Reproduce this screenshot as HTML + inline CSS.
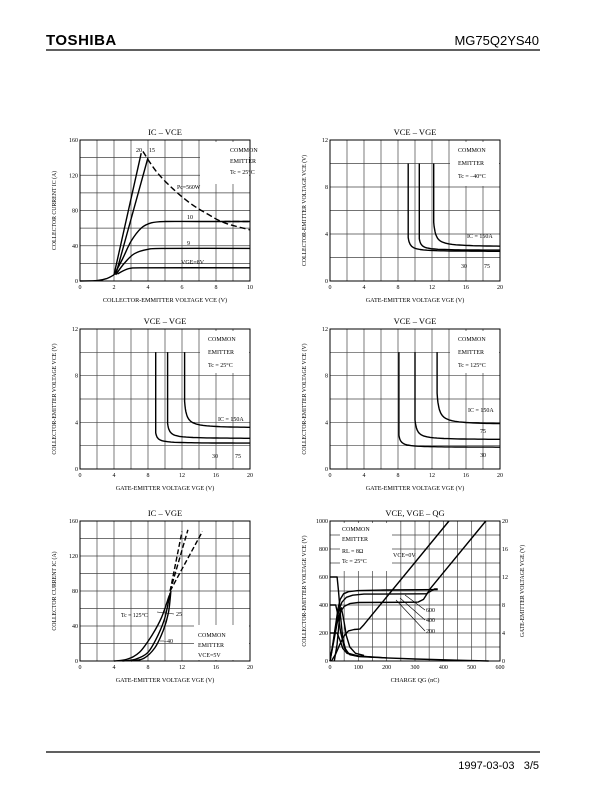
<!DOCTYPE html>
<html><head><meta charset="utf-8"><style>
body{margin:0;background:#fff;}
svg{display:block}
text{font-family:"Liberation Serif",serif;fill:#000}
</style></head><body>
<svg id="s" width="612" height="792" viewBox="0 0 612 792" xmlns="http://www.w3.org/2000/svg">
<text x="46" y="45" style="font-family:'Liberation Sans',sans-serif;font-weight:bold;font-size:15px;letter-spacing:0.5px">TOSHIBA</text>
<text x="539" y="45" text-anchor="end" style="font-family:'Liberation Sans',sans-serif;font-size:13px">MG75Q2YS40</text>
<line x1="46" y1="50" x2="540" y2="50" stroke="#000" stroke-width="1.2"/>
<line x1="46" y1="752" x2="540" y2="752" stroke="#000" stroke-width="1.2"/>
<text x="539" y="769" text-anchor="end" style="font-family:'Liberation Sans',sans-serif;font-size:11px">1997-03-03&#160;&#160;&#160;3/5</text>
</svg>
<script>
var S=document.getElementById('s'),NS='http://www.w3.org/2000/svg';
function el(t,a,txt){var e=document.createElementNS(NS,t);for(var k in a)e.setAttribute(k,a[k]);if(txt!==undefined)e.textContent=txt;S.appendChild(e);return e;}
function T(x,y,s,sz,anc,extra){var a={x:x,y:y,'font-size':sz||6.5};if(anc)a['text-anchor']=anc;if(extra)for(var k in extra)a[k]=extra[k];return el('text',a,s);}
function chart(o){
 var x0=o.x,y0=o.y,w=o.w,h=o.h;
 for(var i=1;i<o.nx;i++){var x=x0+w*i/o.nx;el('line',{x1:x,y1:y0,x2:x,y2:y0+h,stroke:'#444','stroke-width':0.7});}
 for(var j=1;j<o.ny;j++){var y=y0+h*j/o.ny;el('line',{x1:x0,y1:y,x2:x0+w,y2:y,stroke:'#444','stroke-width':0.7});}
 if(o.box)el('rect',{x:o.box[0],y:o.box[1],width:o.box[2],height:o.box[3],fill:'#fff'});
 el('rect',{x:x0,y:y0,width:w,height:h,fill:'none',stroke:'#000','stroke-width':1});
 o.xl.forEach(function(l,i){T(x0+w*i/(o.xl.length-1),y0+h+8,l,6,'middle');});
 o.yl.forEach(function(l,i){T(x0-2,y0+h-h*i/(o.yl.length-1)+2,l,6,'end');});
 if(o.yr)o.yr.forEach(function(l,i){T(x0+w+2,y0+h-h*i/(o.yr.length-1)+2,l,6,'start');});
 T(x0+w/2,y0-5,o.title,8.5,'middle');
 T(x0+w/2,y0+h+21,o.xt,6.2,'middle');
 var yc=y0+h/2;T(0,0,o.yt,5.8,'middle',{transform:'translate('+(x0-24)+','+yc+') rotate(-90)'});
 if(o.yt2)T(0,0,o.yt2,5.8,'middle',{transform:'translate('+(x0+w+24)+','+yc+') rotate(-90)'});
 var m={X:function(v){return x0+w*(v-o.xr[0])/(o.xr[1]-o.xr[0]);},Y:function(v){return y0+h-h*(v-o.yr_[0])/(o.yr_[1]-o.yr_[0]);}};
 m.P=function(pts,dash,sw){var d='';pts.forEach(function(p,i){d+=(i?'L':'M')+m.X(p[0]).toFixed(1)+','+m.Y(p[1]).toFixed(1);});var a={d:d,fill:'none',stroke:'#000','stroke-width':sw||1.4,'stroke-linejoin':'round'};if(dash)a['stroke-dasharray']=dash;el('path',a);};
 m.S=function(pts,dash,sw){
  var P=pts.map(function(p){return [m.X(p[0]),m.Y(p[1])];});var d='M'+P[0].join(',');
  for(var i=0;i<P.length-1;i++){var p0=P[i-1]||P[i],p1=P[i],p2=P[i+1],p3=P[i+2]||p2;
   d+='C'+(p1[0]+(p2[0]-p0[0])/6).toFixed(1)+','+(p1[1]+(p2[1]-p0[1])/6).toFixed(1)+' '+(p2[0]-(p3[0]-p1[0])/6).toFixed(1)+','+(p2[1]-(p3[1]-p1[1])/6).toFixed(1)+' '+p2[0].toFixed(1)+','+p2[1].toFixed(1);}
  var a={d:d,fill:'none',stroke:'#000','stroke-width':sw||1.4};if(dash)a['stroke-dasharray']=dash;el('path',a);};
 return m;}
var c=chart({x:80,y:140,w:170,h:141,nx:10,ny:8,xl:['0','2','4','6','8','10'],yl:['0','40','80','120','160'],xr:[0,10],yr_:[0,160],
 title:'IC  –  VCE',xt:'COLLECTOR-EMMITTER VOLTAGE   VCE   (V)',yt:'COLLECTOR CURRENT   IC   (A)',box:[200,142,49,42]});
c.S([[0,0],[1,0.5],[1.6,3],[2,7]]);
c.P([[2,7],[3.6,145]]);c.P([[2.1,7],[4,140]]);
c.S([[2,7],[2.5,25],[3,45],[3.6,60],[4.2,66],[5,67.5],[7,67.5],[10,67.5]]);
c.S([[2.1,7],[2.6,20],[3.2,31],[4,36],[5,37],[10,37]]);
c.S([[2.2,8],[2.6,12],[3,14.5],[4,15],[10,15]]);
c.S([[3.7,147],[4.5,124],[5.5,104],[6.5,88],[7.5,76],[8.5,66],[10,58]],'6,3');
c.P([[8.5,67.5],[10,67.5]],'6,3');
T(230,152,'COMMON',6);T(230,163,'EMITTER',6);T(230,174,'Tc = 25°C',6);
T(136,152,'20',6);T(149,152,'15',6);T(177,189,'Pc=560W',5.8);T(187,219,'10',6);T(187,245,'9',6);T(181,264,'VGE=8V',6);
function vv(c,v0,bend,end){var p=[[v0,10],[v0,bend]];for(var g=0.05;v0+g<=20.001;g+=(g<1?0.05:0.4)){p.push([v0+g,end+(bend-end)*0.25/(g+0.25)]);}p.push([20,end+(bend-end)*0.25/(20-v0+0.25)]);c.P(p);}
c=chart({x:330,y:140,w:170,h:141,nx:10,ny:6,xl:['0','4','8','12','16','20'],yl:['0','4','8','12'],xr:[0,20],yr_:[0,12],
 title:'VCE  –  VGE',xt:'GATE-EMITTER VOLTAGE   VGE   (V)',yt:'COLLECTOR-EMITTER VOLTAGE   VCE   (V)',box:[450,142,49,44]});
vv(c,9.2,3.7,2.5);vv(c,10.5,3.6,2.6);vv(c,12.2,5.0,2.9);
T(458,152,'COMMON',6);T(458,165,'EMITTER',6);T(458,178,'Tc = –40°C',6);T(467,238,'IC = 150A',6);T(461,268,'30',6);T(484,268,'75',6);
c=chart({x:80,y:329,w:170,h:140,nx:10,ny:6,xl:['0','4','8','12','16','20'],yl:['0','4','8','12'],xr:[0,20],yr_:[0,12],
 title:'VCE  –  VGE',xt:'GATE-EMITTER VOLTAGE   VGE   (V)',yt:'COLLECTOR-EMITTER VOLTAGE   VCE   (V)',box:[200,331,49,42]});
vv(c,8.9,3.1,2.2);vv(c,10.3,3.9,2.6);vv(c,12.3,5.8,3.5);
T(208,341,'COMMON',6);T(208,354,'EMITTER',6);T(208,367,'Tc = 25°C',6);T(218,421,'IC = 150A',6);T(212,458,'30',6);T(235,458,'75',6);
c=chart({x:330,y:329,w:170,h:140,nx:10,ny:6,xl:['0','4','8','12','16','20'],yl:['0','4','8','12'],xr:[0,20],yr_:[0,12],
 title:'VCE  –  VGE',xt:'GATE-EMITTER VOLTAGE   VGE   (V)',yt:'COLLECTOR-EMITTER VOLTAGE   VCE   (V)',box:[450,331,49,42]});
vv(c,8.1,2.9,1.85);vv(c,10,4.2,2.5);vv(c,12.6,6.5,3.8);
T(458,341,'COMMON',6);T(458,354,'EMITTER',6);T(458,367,'Tc = 125°C',6);T(468,412,'IC = 150A',6);T(480,433,'75',6);T(480,457,'30',6);
c=chart({x:80,y:521,w:170,h:140,nx:10,ny:8,xl:['0','4','8','12','16','20'],yl:['0','40','80','120','160'],xr:[0,20],yr_:[0,160],
 title:'IC  –  VGE',xt:'GATE-EMITTER VOLTAGE   VGE   (V)',yt:'COLLECTOR CURRENT   IC   (A)',box:[194,625,55,35]});
c.S([[4,0],[5.5,2],[7,10],[8.5,30],[9.6,50],[10.5,75]]);
c.S([[5,0],[6.5,2],[8,10],[9.2,30],[10,50],[10.6,78]]);
c.S([[6,0],[7.5,3],[8.8,15],[9.8,35],[10.4,55],[10.7,80]]);
c.P([[10.6,80],[12,148]],'5,2.5');c.P([[10.6,80],[12.7,150]],'5,2.5');c.P([[10.6,80],[14.4,148]],'5,2.5');
T(198,637,'COMMON',6);T(198,647,'EMITTER',6);T(198,657,'VCE=5V',6);T(121,617,'Tc = 125°C',5.8);T(176,616,'25',6);T(164,643,'–40',6);
el('path',{d:'M157,612 L174,614 M160,641 L164,641',stroke:'#000','stroke-width':0.6,fill:'none'});
c=chart({x:330,y:521,w:170,h:140,nx:12,ny:10,xl:['0','100','200','300','400','500','600'],yl:['0','200','400','600','800','1000'],yr:['0','4','8','12','16','20'],xr:[0,600],yr_:[0,1000],
 title:'VCE, VGE  –  QG',xt:'CHARGE   QG   (nC)',yt:'COLLECTOR-EMITTER VOLTAGE   VCE   (V)',yt2:'GATE-EMITTER VOLTAGE   VGE   (V)',box:[340,523,52,48]});
c.P([[0,600],[25,600],[30,500],[38,300],[45,160],[55,80],[70,45],[100,32],[200,22],[300,14],[450,6],[560,0]]);
c.P([[0,400],[20,400],[28,330],[38,200],[50,100],[65,55],[100,35],[200,22]]);
c.P([[0,200],[25,200],[35,150],[45,90],[60,55],[90,38],[150,27]]);
c.P([[0,0],[10,120],[20,260],[28,370],[36,440],[48,480],[65,495],[100,503],[200,507],[380,510]]);
c.P([[0,0],[12,140],[22,270],[32,370],[42,420],[58,455],[80,470],[120,478],[340,480]]);
c.P([[0,0],[14,150],[26,280],[36,350],[50,390],[70,410],[100,418],[310,420]]);
c.P([[15,0],[25,120],[33,300],[40,380],[48,300],[58,180],[70,100],[90,55],[120,40]]);
c.P([[5,0],[20,50],[35,120],[50,180],[65,215],[85,225],[105,228],[120,260],[420,1000]]);
c.P([[340,480],[370,515],[380,515]]);c.P([[310,420],[330,440],[355,520],[550,1000]]);
T(342,531,'COMMON',6);T(342,541,'EMITTER',6);T(342,553,'RL = 8Ω',6);T(342,563,'Tc = 25°C',6);T(393,557,'VCE=0V',6);
T(426,612,'600',6);T(426,622,'400',6);T(426,633,'200',6);
el('path',{d:'M425,610 L405,595 M425,620 L400,598 M425,631 L396,600',stroke:'#000','stroke-width':0.6,fill:'none'});
</script>
</body></html>
